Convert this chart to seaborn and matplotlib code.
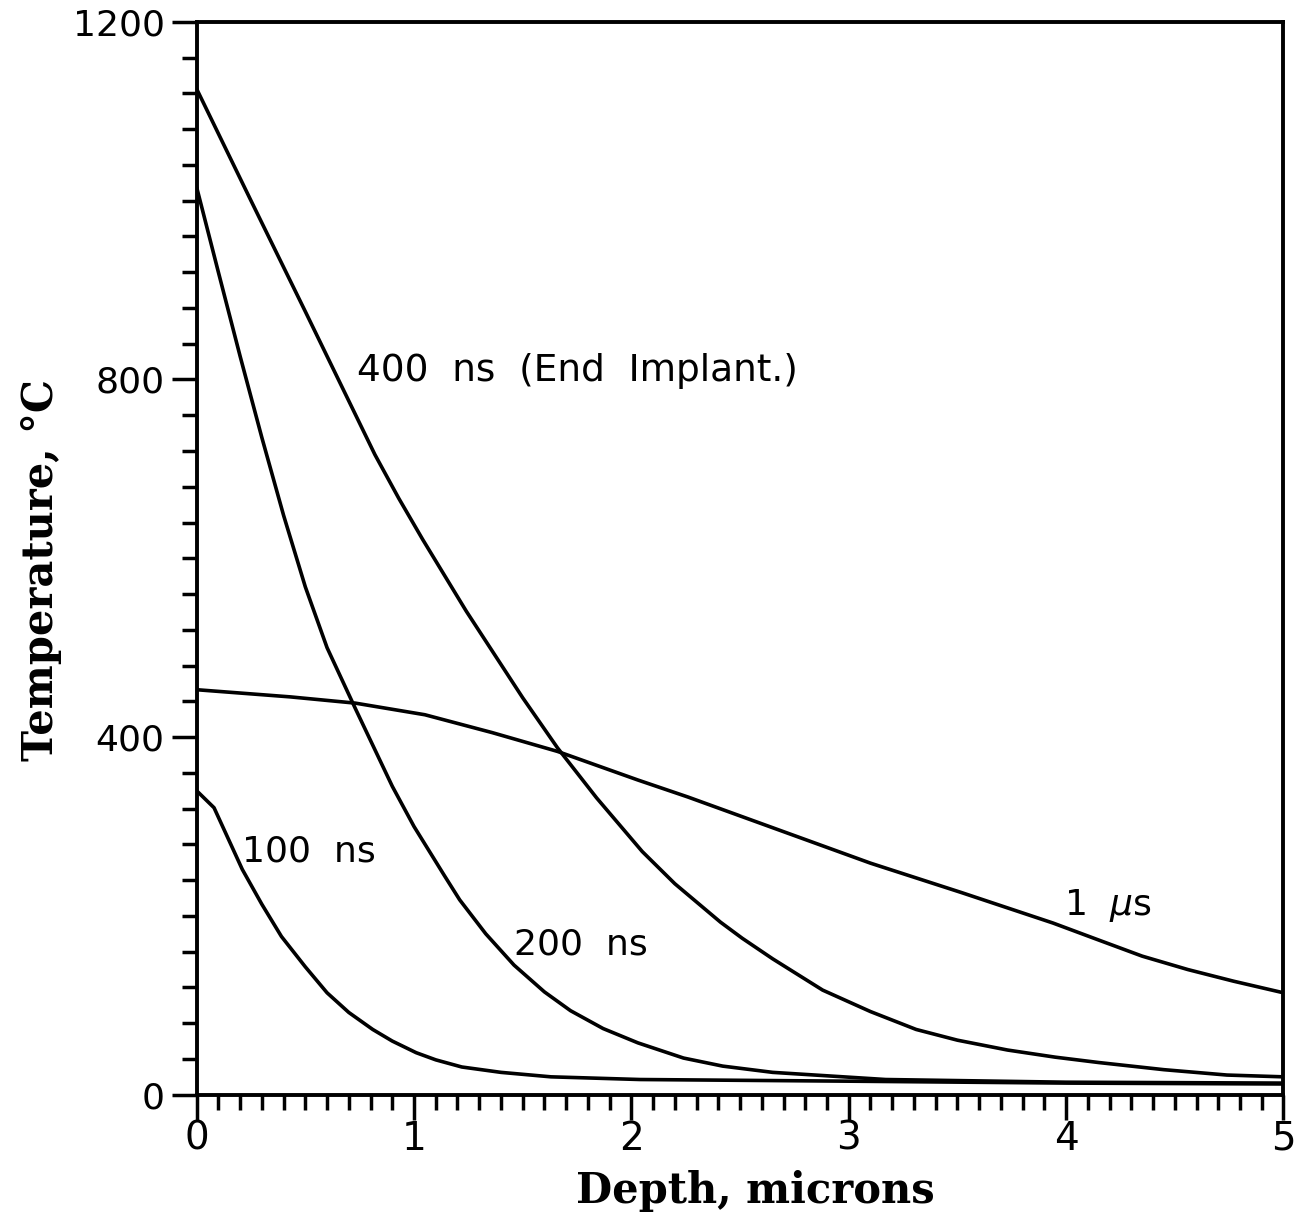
import numpy as np
import pandas as pd
import matplotlib
matplotlib.use("Agg")
import matplotlib.pyplot as plt
from matplotlib.ticker import MultipleLocator
import seaborn as sns

# ---- data ----
depth_100 = [0, 0.08, 0.21, 0.30, 0.39, 0.50, 0.60, 0.70, 0.81, 0.90, 1.01, 1.10, 1.22, 1.40, 1.63, 2.04, 3.07, 4.0, 5.0]
temp_100 = [340, 321, 252, 213, 177, 143, 114, 92, 73, 60, 47, 39, 31, 25, 20, 17, 15, 13, 12]

depth_200 = [0, 0.10, 0.20, 0.30, 0.40, 0.50, 0.60, 0.73, 0.90, 1.00, 1.14, 1.21, 1.33, 1.46, 1.60, 1.72, 1.87, 2.03, 2.24, 2.42, 2.65, 3.17, 4.0, 5.0]
temp_200 = [1015, 920, 826, 735, 648, 568, 500, 432, 345, 300, 245, 218, 180, 145, 115, 94, 74, 58, 41, 32, 25, 17, 14, 13]

depth_400 = [0, 0.25, 0.50, 0.68, 0.82, 0.93, 1.04, 1.24, 1.50, 1.66, 1.84, 2.05, 2.20, 2.41, 2.51, 2.65, 2.88, 3.10, 3.31, 3.50, 3.73, 3.95, 4.15, 4.45, 4.74, 5.0]
temp_400 = [1125, 1000, 876, 786, 716, 667, 621, 541, 444, 388, 332, 272, 236, 193, 175, 152, 117, 93, 73, 61, 50, 42, 36, 28, 22, 20]

depth_1us = [0, 0.43, 0.73, 1.05, 1.36, 1.66, 2.03, 2.26, 2.68, 3.10, 3.52, 3.94, 4.15, 4.35, 4.56, 4.77, 5.0]
temp_1us = [453, 445, 438, 425, 405, 384, 352, 333, 296, 259, 226, 192, 173, 155, 140, 127, 114]

series_names = ["100 ns", "200 ns", "400 ns", "1 us"]
label_texts = ["100  ns", "200  ns", "400  ns  (End  Implant.)", "1  $\\mu$s"]
label_x = [0.21, 1.46, 0.74, 3.99]
label_y = [272, 168, 809, 212]

x_ticks = [0, 1, 2, 3, 4, 5]
y_ticks = [0, 400, 800, 1200]

# ---- build long table ----
frames = []
for name, d, t in zip(series_names,
                      [depth_100, depth_200, depth_400, depth_1us],
                      [temp_100, temp_200, temp_400, temp_1us]):
    frames.append(pd.DataFrame({"depth": d, "temp": t, "series": name}))
df = pd.concat(frames, ignore_index=True)

sns.set_theme(style="ticks")
plt.rcParams["font.family"] = ["DejaVu Sans"]
plt.rcParams["mathtext.fontset"] = "dejavusans"
plt.rcParams["text.color"] = "black"
plt.rcParams["axes.labelcolor"] = "black"

fig = plt.figure(figsize=(13.11, 12.15), dpi=100)
ax = fig.add_axes([0.150, 0.099, 0.829, 0.883])

sns.lineplot(data=df, x="depth", y="temp", hue="series", units="series",
             estimator=None, sort=False, palette=["black"] * 4,
             linewidth=2.6, legend=False, ax=ax)

ax.set_xlim(0, 5)
ax.set_ylim(0, 1200)
ax.set_xticks(x_ticks)
ax.set_yticks(y_ticks)
ax.xaxis.set_minor_locator(MultipleLocator(0.1))
ax.yaxis.set_minor_locator(MultipleLocator(40))
ax.tick_params(axis="both", which="major", direction="out", length=18,
               width=2.5, color="black", labelsize=26, labelcolor="black")
ax.tick_params(axis="both", which="minor", direction="out", length=11,
               width=2.5, color="black")
ax.tick_params(axis="y", which="major", pad=5)
ax.tick_params(axis="x", which="major", pad=0, labelsize=28)

for sp in ax.spines.values():
    sp.set_visible(True)
    sp.set_linewidth(2.8)
    sp.set_color("black")

ax.set_xlabel("Depth, microns", fontsize=30, fontweight="bold",
              family=["DejaVu Serif"], color="black")
ax.set_ylabel("Temperature, \u00b0C", fontsize=30, fontweight="bold",
              family=["DejaVu Serif"], color="black")
ax.xaxis.set_label_coords(0.514, -0.070)
ax.xaxis.label.set_va("top")
ax.yaxis.set_label_coords(-0.124, 0.489)

for i, (txt, lx, ly) in enumerate(zip(label_texts, label_x, label_y)):
    ax.text(lx, ly, txt, fontsize=27 if i == 2 else 26, va="center",
            ha="left", color="black")

ax.set_facecolor("white")
fig.patch.set_facecolor("white")
fig.savefig("out.png", dpi=100)
